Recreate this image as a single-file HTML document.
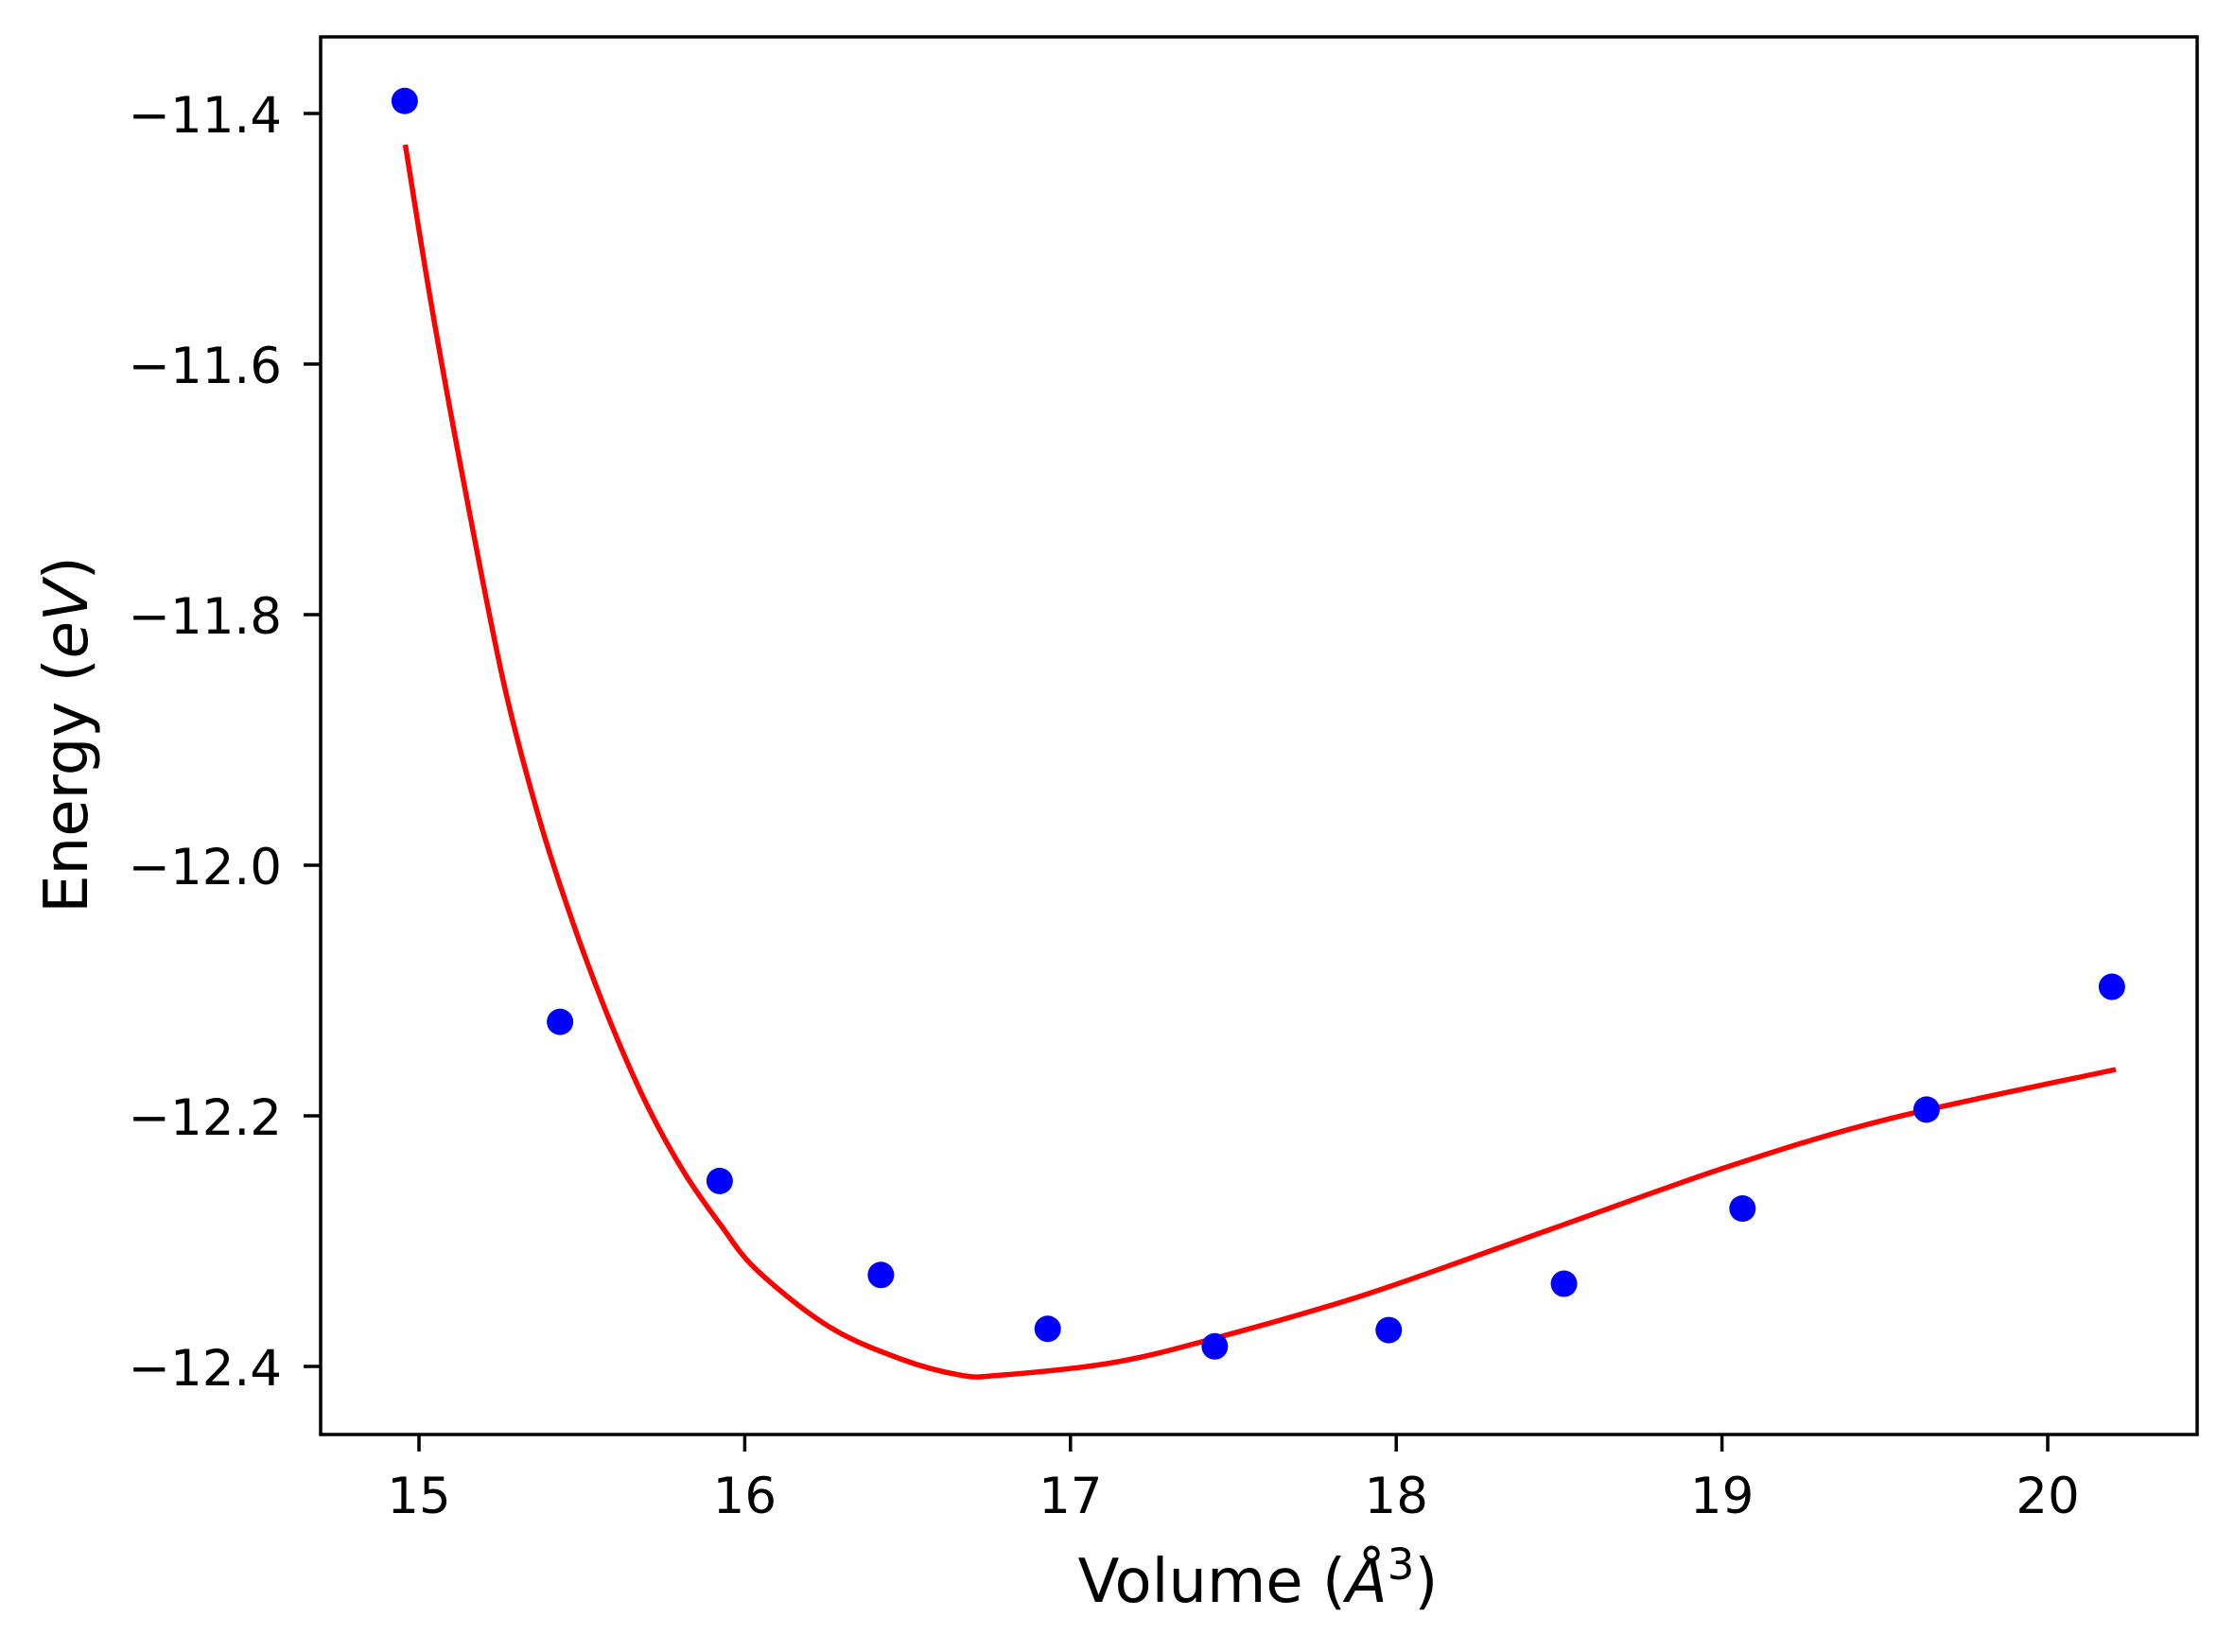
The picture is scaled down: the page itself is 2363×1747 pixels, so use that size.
<!DOCTYPE html>
<html><head><meta charset="utf-8"><style>
html,body{margin:0;padding:0;background:#fff;}
svg{display:block;font-family:"DejaVu Sans","Liberation Sans",sans-serif;}
</style></head><body>
<svg id="chart" width="2363" height="1747" viewBox="0 0 2363 1747">
<rect x="0" y="0" width="2363" height="1747" fill="#fff"/>
<g id="plot"></g>
<g id="axes"></g>
<text x="1330" y="1694" font-size="64" text-anchor="middle">Volume (<tspan font-style="italic">Å</tspan><tspan font-size="45" dy="-24">3</tspan><tspan dy="24">)</tspan></text>
<text transform="translate(92,777) rotate(-90)" font-size="64" text-anchor="middle">Energy (<tspan font-style="italic">eV</tspan>)</text>
</svg>
<script>
const pointVolumes = [14.956, 15.433, 15.923, 16.418, 16.93, 17.443, 17.977, 18.515, 19.063, 19.628, 20.197];
const pointEnergies = [-11.390, -12.125, -12.252, -12.327, -12.370, -12.384, -12.371, -12.334, -12.274, -12.195, -12.097];
const fitVolumes = [14.958, 15.044, 15.154, 15.264, 15.375, 15.485, 15.595, 15.705, 15.816, 15.926, 16.037, 16.257, 16.478, 16.664, 16.784, 17.13, 17.45, 17.913, 18.469, 19.025, 19.52, 20.209];
const fitEnergies = [-11.425, -11.562, -11.717, -11.859, -11.968, -12.055, -12.130, -12.194, -12.246, -12.287, -12.323, -12.368, -12.394, -12.407, -12.407, -12.397, -12.377, -12.342, -12.291, -12.240, -12.202, -12.163];
const xTicks = [15, 16, 17, 18, 19, 20];
const xTickLabels = ["15", "16", "17", "18", "19", "20"];
const yTicks = [-11.4, -11.6, -11.8, -12.0, -12.2, -12.4];
const yTickLabels = ["\u221211.4", "\u221211.6", "\u221211.8", "\u221212.0", "\u221212.2", "\u221212.4"];

const L = 339, R = 2323, T = 39, B = 1517;
function sx(v){ return 443 + (v - 15) * 344.4; }
function sy(e){ return 120 + (-11.4 - e) * 1325; }
const NS = "http://www.w3.org/2000/svg";
const plot = document.getElementById('plot');
const axes = document.getElementById('axes');

// fit curve (Catmull-Rom smoothing)
const pts = fitVolumes.map((v,i)=>[sx(v), sy(fitEnergies[i])]);
let d = "M" + pts[0][0].toFixed(1) + "," + pts[0][1].toFixed(1);
for (let i=0;i<pts.length-1;i++){
  const p0 = pts[Math.max(0,i-1)], p1 = pts[i], p2 = pts[i+1], p3 = pts[Math.min(pts.length-1,i+2)];
  const c1 = [p1[0]+(p2[0]-p0[0])/6, p1[1]+(p2[1]-p0[1])/6];
  const c2 = [p2[0]-(p3[0]-p1[0])/6, p2[1]-(p3[1]-p1[1])/6];
  d += " C"+c1[0].toFixed(1)+","+c1[1].toFixed(1)+" "+c2[0].toFixed(1)+","+c2[1].toFixed(1)+" "+p2[0].toFixed(1)+","+p2[1].toFixed(1);
}
const path = document.createElementNS(NS,'path');
path.setAttribute('d', d);
path.setAttribute('fill','none');
path.setAttribute('stroke','#ff0000');
path.setAttribute('stroke-width','5.5');


plot.appendChild(path);

pointVolumes.forEach((v,i)=>{
  const c = document.createElementNS(NS,'circle');
  c.setAttribute('cx', sx(v));
  c.setAttribute('cy', sy(pointEnergies[i]));
  c.setAttribute('r', 14);
  c.setAttribute('fill', '#0000ff');
  
  
  plot.appendChild(c);
});

const frame = document.createElementNS(NS,'rect');
frame.setAttribute('x', L); frame.setAttribute('y', T);
frame.setAttribute('width', R-L); frame.setAttribute('height', B-T);
frame.setAttribute('fill','none'); frame.setAttribute('stroke','#000'); frame.setAttribute('stroke-width','3.5');


axes.appendChild(frame);

xTicks.forEach((v,i)=>{
  const x = sx(v);
  const t = document.createElementNS(NS,'line');
  t.setAttribute('x1',x); t.setAttribute('x2',x); t.setAttribute('y1',B); t.setAttribute('y2',B+18);
  t.setAttribute('stroke','#000'); t.setAttribute('stroke-width','3.5');
  
  
  axes.appendChild(t);
  const tx = document.createElementNS(NS,'text');
  tx.setAttribute('x',x); tx.setAttribute('y',1600);
  tx.setAttribute('font-size','53'); tx.setAttribute('text-anchor','middle');
  tx.textContent = xTickLabels[i];
  
  
  axes.appendChild(tx);
});
yTicks.forEach((e,i)=>{
  const y = sy(e);
  const t = document.createElementNS(NS,'line');
  t.setAttribute('x1',L-18); t.setAttribute('x2',L); t.setAttribute('y1',y); t.setAttribute('y2',y);
  t.setAttribute('stroke','#000'); t.setAttribute('stroke-width','3.5');
  
  
  axes.appendChild(t);
  const tx = document.createElementNS(NS,'text');
  tx.setAttribute('x',298); tx.setAttribute('y',y+20);
  tx.setAttribute('font-size','53'); tx.setAttribute('text-anchor','end');
  tx.textContent = yTickLabels[i];
  
  
  axes.appendChild(tx);
});
</script>
</body></html>
